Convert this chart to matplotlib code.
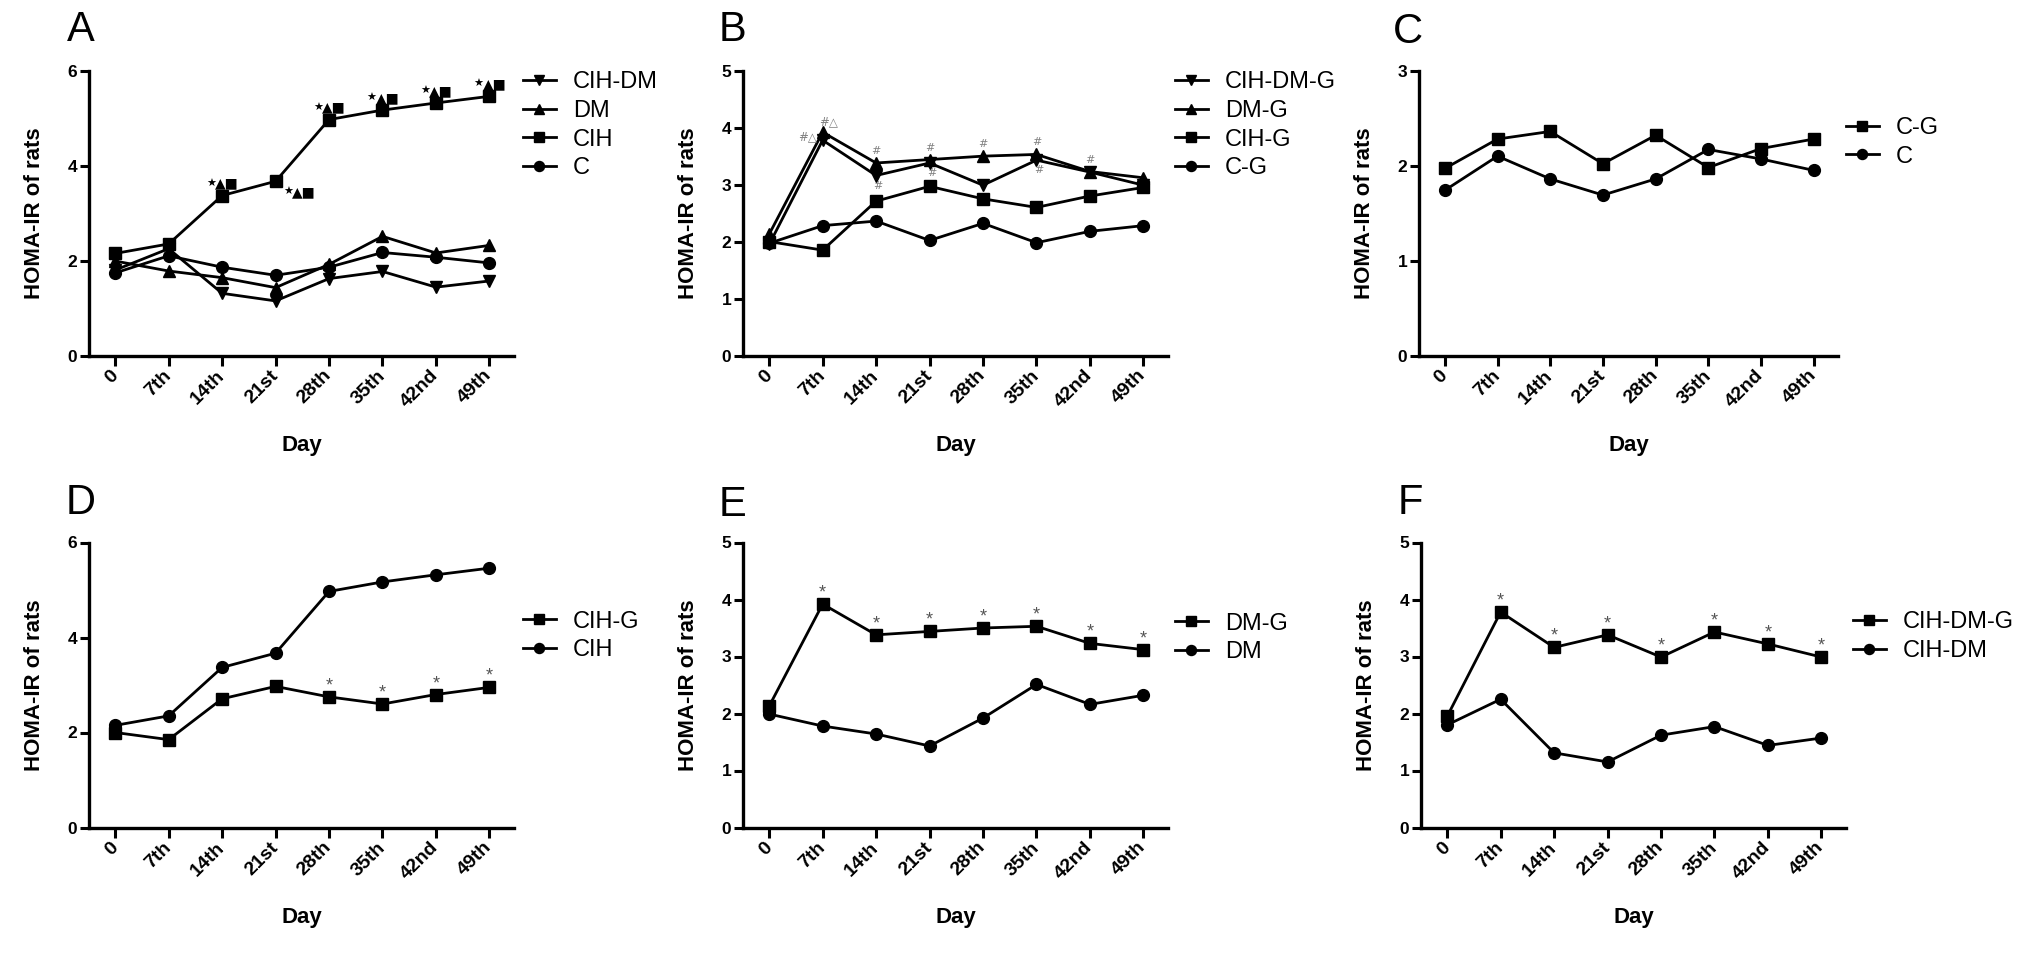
import numpy as np
import matplotlib
matplotlib.use('Agg')
import matplotlib.pyplot as plt

plt.rcParams['font.family'] = ['Liberation Sans', 'DejaVu Sans']

# Dagen op de x-as
days = ['0', '7th', '14th', '21st', '28th', '35th', '42nd', '49th']

cih_dm = [1.80, 2.25, 1.31, 1.15, 1.62, 1.77, 1.44, 1.57]
dm = [1.99, 1.78, 1.64, 1.43, 1.92, 2.51, 2.16, 2.32]
cih = [2.15, 2.35, 3.37, 3.67, 4.97, 5.17, 5.32, 5.46]
c = [1.74, 2.10, 1.86, 1.69, 1.86, 2.17, 2.07, 1.95]
cih_dm_g = [1.95, 3.78, 3.16, 3.38, 2.99, 3.43, 3.22, 2.99]
dm_g = [2.13, 3.92, 3.38, 3.44, 3.50, 3.53, 3.23, 3.12]
cih_g = [2.00, 1.85, 2.71, 2.97, 2.75, 2.60, 2.80, 2.95]
c_g = [1.97, 2.28, 2.36, 2.02, 2.32, 1.98, 2.18, 2.28]

# Significantie-markeringen (indices van de dagen)
a_marks = [2, 3, 4, 5, 6, 7]
b_upper = [2, 3, 4, 5, 6]
b_lower = [2, 3, 5]
d_marks = [4, 5, 6, 7]
e_marks = [1, 2, 3, 4, 5, 6, 7]
f_marks = [1, 2, 3, 4, 5, 6, 7]

W, H = 2031, 956
fig = plt.figure(figsize=(W / 100, H / 100), dpi=100)
x = np.arange(len(days))


def make_ax(left, top, right, bottom):
    return fig.add_axes([left / W, 1 - bottom / H, (right - left) / W, (bottom - top) / H])


def style(ax, ymax, ystep, width_px=425):
    ax.set_xlim(-0.49, 7.46)
    ax.set_ylim(0, ymax)
    ax.spines[['top', 'right']].set_visible(False)
    for s in ['left', 'bottom']:
        ax.spines[s].set_linewidth(2.4)
    ax.set_yticks(np.arange(0, ymax + 0.01, ystep))
    ax.set_xticks(x)
    ax.set_xticklabels(days, rotation=45, ha='right', va='center', rotation_mode='anchor')
    ax.tick_params(axis='y', length=6.5, width=2.2, pad=2, labelsize=12.5)
    ax.tick_params(axis='x', length=7.5, width=2.2, pad=5, labelsize=14)
    for lab in ax.get_xticklabels() + ax.get_yticklabels():
        lab.set_fontweight('bold')
    ax.set_ylabel('HOMA-IR of rats', fontsize=16, fontweight='bold')
    ax.yaxis.set_label_coords(-44 / width_px, 0.5)
    ax.set_xlabel('Day', fontsize=16, fontweight='bold')
    ax.xaxis.set_label_coords(0.5, -0.28)


def draw(ax, series):
    for vals, mk, lab in series:
        ax.plot(x, vals, color='black', marker=mk, markersize=8.5, linewidth=2, label=lab)


def legend(ax, left_px, top_px):
    ax.legend(loc='upper left', bbox_to_anchor=(left_px / W, 1 - top_px / H),
              bbox_transform=fig.transFigure, frameon=False, borderpad=0,
              borderaxespad=0, handlelength=1.38, handletextpad=0.73,
              labelspacing=0.28, fontsize=17, markerscale=0.85)


def mark(ax, vals, idx, text, dx, dy, size, color, family=None):
    for i in idx:
        ax.annotate(text, (i, vals[i]), xytext=(dx * 0.72, -dy * 0.72),
                    textcoords='offset points', ha='center', va='center',
                    fontsize=size, color=color, family=family)


def letter(txt, cx, cy):
    fig.text(cx / W, 1 - cy / H, txt, fontsize=30, ha='center', va='center',
             family=['Liberation Sans Narrow', 'Liberation Sans'])


sym = ['DejaVu Sans']

# Paneel A
ax = make_ax(89, 70.7, 514, 355.5)
style(ax, 6, 2)
draw(ax, [(cih_dm, 'v', 'CIH-DM'), (dm, '^', 'DM'), (cih, 's', 'CIH'), (c, 'o', 'C')])
legend(ax, 523, 71.5)
above = [i for i in a_marks if i != 3]
mark(ax, cih, above, '★', -11, -12, 8, 'black', sym)
mark(ax, cih, above, '▲■', 5, -12, 10, 'black', sym)
mark(ax, cih, [3], '★', 12.5, 10.5, 8, 'black', sym)
mark(ax, cih, [3], '▲■', 28.5, 10.5, 10, 'black', sym)
letter('A', 80.5, 30)

# Paneel B
ax = make_ax(743, 70.7, 1168, 355.5)
style(ax, 5, 1)
draw(ax, [(cih_dm_g, 'v', 'CIH-DM-G'), (dm_g, '^', 'DM-G'), (cih_g, 's', 'CIH-G'), (c_g, 'o', 'C-G')])
legend(ax, 1175, 71.5)
mark(ax, dm_g, [1], '#△', 6, -10, 8.5, '#808080', sym)
mark(ax, cih_dm_g, [1], '#△', -15, -3, 8.5, '#808080', sym)
mark(ax, dm_g, b_upper, '#', 0, -12, 8, '#808080', sym)
mark(ax, cih_dm_g, b_lower, '#', 2, 10, 8, '#808080', sym)
letter('B', 732.5, 30)

# Paneel C
ax = make_ax(1419, 70.7, 1838, 355.5)
style(ax, 3, 1, 419)
draw(ax, [(c_g, 's', 'C-G'), (c, 'o', 'C')])
legend(ax, 1846, 117)
letter('C', 1408, 32)

# Paneel D
ax = make_ax(89, 542.5, 514, 827.5)
style(ax, 6, 2)
draw(ax, [(cih_g, 's', 'CIH-G'), (cih, 'o', 'CIH')])
legend(ax, 523, 610.5)
mark(ax, cih_g, d_marks, '*', 0, -11, 13, '#555555')
letter('D', 81, 503)

# Paneel E
ax = make_ax(743, 542.5, 1168, 827.5)
style(ax, 5, 1)
draw(ax, [(dm_g, 's', 'DM-G'), (dm, 'o', 'DM')])
legend(ax, 1175, 612.5)
mark(ax, dm_g, e_marks, '*', 0, -11, 13, '#555555')
letter('E', 733, 505)

# Paneel F
ax = make_ax(1421, 542.5, 1846, 827.5)
style(ax, 5, 1)
draw(ax, [(cih_dm_g, 's', 'CIH-DM-G'), (cih_dm, 'o', 'CIH-DM')])
legend(ax, 1853, 611.5)
mark(ax, cih_dm_g, f_marks, '*', 0, -11, 13, '#555555')
letter('F', 1410, 503)

fig.savefig('out.png', dpi=100)
